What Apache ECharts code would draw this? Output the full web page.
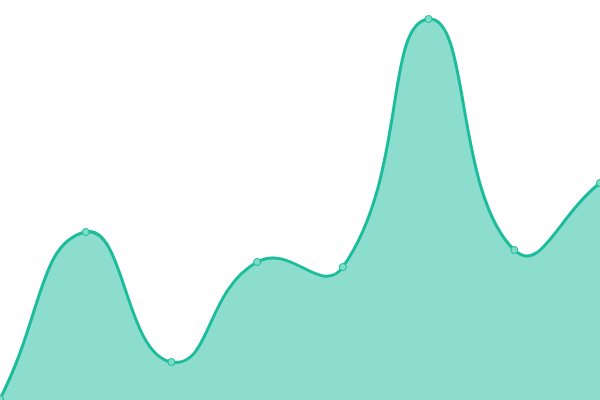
<!DOCTYPE html>
<html>
<head>
<meta charset="utf-8">
<script src="https://cdn.jsdelivr.net/npm/echarts@6/dist/echarts.min.js"></script>
<style>
html, body { margin: 0; padding: 0; background: #fff; }
#main { width: 600px; height: 400px; }
</style>
</head>
<body>
<div id="main"></div>
<script>
// categories and values
var categories = ['1', '2', '3', '4', '5', '6', '7', '8'];
var values = [1, 168, 38, 138, 133, 381, 150, 217];
var SMOOTH = 0.5;

// bezier control points, old-style smoothing (overshoot allowed, clamped to grid)
function controlPoints(pts, rect) {
    var cps = [];
    for (var i = 0; i < pts.length; i++) {
        var p = pts[i];
        var prev = pts[i - 1] || p;
        var next = pts[i + 1] || p;
        var vx = (next[0] - prev[0]) * SMOOTH;
        var vy = (next[1] - prev[1]) * SMOOTH;
        var d0 = Math.hypot(p[0] - prev[0], p[1] - prev[1]);
        var d1 = Math.hypot(next[0] - p[0], next[1] - p[1]);
        var sum = d0 + d1;
        if (sum) { d0 /= sum; d1 /= sum; }
        var a = [p[0] - vx * d0, p[1] - vy * d0];
        var b = [p[0] + vx * d1, p[1] + vy * d1];
        [a, b].forEach(function (c) {
            c[0] = Math.min(Math.max(c[0], rect.x), rect.x + rect.width);
            c[1] = Math.min(Math.max(c[1], rect.y), rect.y + rect.height);
        });
        cps.push([a, b]);
    }
    return cps;
}

function curvePath(pts, cps) {
    var d = 'M' + pts[0][0] + ' ' + pts[0][1];
    for (var i = 1; i < pts.length; i++) {
        var c1 = cps[i - 1][1], c2 = cps[i][0];
        d += ' C' + c1[0] + ' ' + c1[1] + ' ' + c2[0] + ' ' + c2[1] + ' ' + pts[i][0] + ' ' + pts[i][1];
    }
    return d;
}

function renderCurve(params, api) {
    var rect = params.coordSys;
    var pts = values.map(function (v, i) { return api.coord([i, v]); });
    var base = api.coord([0, 0])[1];
    var cps = controlPoints(pts, rect);
    var line = curvePath(pts, cps);
    var area = line + ' L' + pts[pts.length - 1][0] + ' ' + base + ' L' + pts[0][0] + ' ' + base + ' Z';
    return {
        type: 'group',
        children: [{
            type: 'path',
            shape: { pathData: area },
            style: { fill: 'rgba(26,188,156,0.5)', stroke: null }
        }, {
            type: 'path',
            shape: { pathData: line },
            style: { fill: null, stroke: '#1abc9c', lineWidth: 3 }
        }]
    };
}

var myChart = echarts.init(document.getElementById('main'));
var option = {
    animation: false,
    grid: { left: 0, right: 0, top: 0, bottom: 0 },
    xAxis: {
        type: 'category',
        boundaryGap: false,
        data: categories,
        show: false
    },
    yAxis: {
        type: 'value',
        min: 0,
        max: 400,
        show: false
    },
    series: [{
        type: 'custom',
        renderItem: renderCurve,
        data: [[0, 0]],
        silent: true,
        z: 1
    }, {
        type: 'line',
        data: values,
        symbol: 'circle',
        symbolSize: 7,
        lineStyle: { width: 0 },
        itemStyle: { color: '#7fdcc8', borderColor: '#1abc9c', borderWidth: 1 },
        z: 3
    }]
};
myChart.setOption(option);
</script>
</body>
</html>
